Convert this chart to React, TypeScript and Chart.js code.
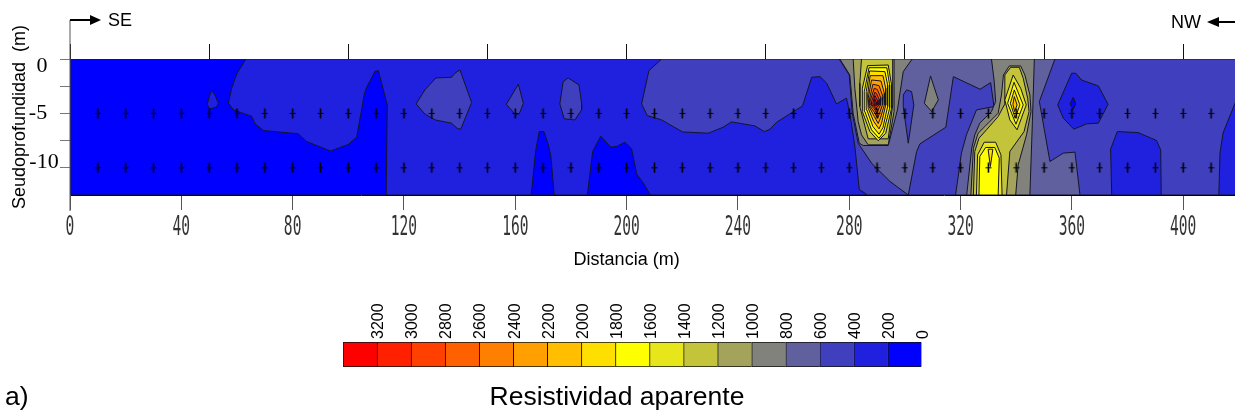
import React, { useEffect, useRef } from "react";
import { Chart, registerables } from "chart.js";

Chart.register(...registerables);

type Pt = [number, number];

// ---- axes ----
const distanceTicks = [0, 40, 80, 120, 160, 200, 240, 280, 320, 360, 400];
const topTicks = [0, 50, 100, 150, 200, 250, 300, 350, 400];
const depthTicks = [0, -2.5, -5, -7.5, -10];
const depthLabels = ["0", "-5", "-10"];
const depthLabelValues = [0, -5, -10];
const scaleLabels = [3200, 3000, 2800, 2600, 2400, 2200, 2000, 1800, 1600, 1400, 1200, 1000, 800, 600, 400, 200, 0];
const scaleColors = ["#ff0000", "#ff2000", "#ff4000", "#ff6000", "#ff8000", "#ff9f00", "#ffbf00", "#ffdf00", "#ffff00", "#e6e61a", "#c4c43a", "#a3a35b", "#82827c", "#60609e", "#4040bf", "#2020df", "#0000ff"];

// ---- measuring points ----
const pointDistances = [10, 20, 30, 40, 50, 60, 70, 80, 90, 100, 110, 120, 130, 140, 150, 160, 170, 180, 190, 200, 210, 220, 230, 240, 250, 260, 270, 280, 290, 300, 310, 320, 330, 340, 350, 360, 370, 380, 390, 400, 410];
const pointDepths = [-5, -10];

// ---- contour polygons [distance, depth] ----
const section: Pt[] = [[0, 0], [420, 0], [420, -12.5], [0, -12.5]];

const r200Main: Pt[] = [[63.2, 0], [59.9, -1.38], [58.1, -2.69], [56.9, -4.05], [58.7, -4.67], [65.3, -5.27], [66.5, -5.95], [69.5, -6.57], [82, -6.87], [85, -7.58], [93.6, -8.46], [100, -7.85], [103, -7.19], [105.8, -3.15], [106.6, -2.6], [109.6, -1.13], [110.8, -1.07], [114, -4.22], [113.6, -12.5], [420, -12.5], [420, 0]];
const r200Islet: Pt[] = [[50.9, -2.9], [52.1, -3.3], [53.3, -4.07], [52.7, -4.4], [50.3, -4.6], [49.3, -4.2], [50.1, -3.4]];
const low170: Pt[] = [[165.7, -12.5], [167.3, -8.5], [168.6, -6.67], [170.3, -6.67], [171.9, -7.89], [172.8, -8.96], [174, -12.5]];
const low195: Pt[] = [[185.9, -12.5], [187.8, -8.5], [190.7, -7.09], [194.3, -8.1], [196.4, -8.04], [199.4, -7.65], [201.8, -8.26], [203.6, -10.55], [206, -11.4], [208.6, -12.5]];

const r400Main: Pt[] = [[212.6, 0], [208, -1.07], [205.4, -4.13], [207.4, -5.2], [212.6, -5.6], [220.1, -6.7], [229.3, -6.82], [234.7, -6.27], [237.7, -5.78], [246.1, -6.15], [249.5, -6.67], [251.5, -6.45], [253.9, -5.81], [263.2, -4.31], [266.5, -1.68], [269.5, -1.62], [271.9, -2.23], [275.4, -4.13], [279, -3.6], [280.2, -5], [282, -8], [283.6, -12], [286.6, -12.5], [412.8, -12.5], [413.2, -8.65], [414.3, -6.8], [418.6, -4.07], [420, -3.3], [420, 0]];
const r400A: Pt[] = [[124.4, -4.13], [127.5, -2.84], [131.5, -1.74], [137.1, -1.68], [138.3, -1.31], [140.1, -1], [144.3, -4], [140.4, -6.45], [139.2, -6.39], [137.1, -5.9], [131.2, -5.6], [127.5, -5.05]];
const r400B: Pt[] = [[161.1, -2.32], [162.9, -4.07], [161.4, -5.05], [159.9, -5.08], [156.8, -4.16]];
const r400C: Pt[] = [[179, -1.74], [182.9, -2.39], [183.9, -4.22], [183.8, -4.68], [181.4, -5.6], [177.6, -5.5], [176, -4.13], [177.2, -2.08]];
const low380: Pt[] = [[374.3, -12.5], [373.9, -8.29], [376.3, -6.67], [383.8, -6.76], [390.4, -7.49], [391.9, -8.35], [392.1, -12.5]];
const low360: Pt[] = [[359.9, -1.31], [361.4, -1.31], [363.5, -1.93], [369.5, -2.48], [373, -4.16], [369.5, -5.9], [365.3, -5.96], [360.7, -6.45], [356.9, -5.44], [354.9, -4.22]];
const min360: Pt[] = [[360.5, -3.52], [361.4, -4.13], [360.5, -4.62], [359.3, -4.13]];

const r600Main: Pt[] = [[276.4, 0], [280, -1.47], [281.1, -5], [283.2, -7.74], [288, -9.57], [294.6, -11.25], [301.2, -12.5], [304.2, -8.5], [305.4, -7.8], [314.7, -6.27], [317.4, -1.62], [327, -2.78], [330.8, -2.17], [332, -4.37], [325.7, -4.68], [322.1, -6.97], [320.3, -8.65], [318.2, -12.5], [362.9, -12.5], [361.1, -8.56], [356.9, -8.65], [352.1, -9.42], [348.3, -3.91], [353.9, 0]];
const low300: Pt[] = [[299.4, -3.3], [300.6, -2.84], [302.4, -3], [303.2, -4.22], [301.2, -7.74], [299.4, -4.37]];

const r800Hot: Pt[] = [[276.6, 0], [280.2, -1.47], [281.4, -5], [283.6, -7.74], [285, -7.95], [294, -7.95], [297.3, -4.68], [299.4, -1.16], [302.6, 0]];
const r800Islet: Pt[] = [[309.2, -1.56], [312, -3.76], [309.6, -4.83], [307, -4.07]];
const r800East: Pt[] = [[331.1, 0], [332.1, -2.08], [332.6, -3.91], [331.1, -4.83], [326.9, -5.9], [325.1, -6.97], [324, -8.2], [322.2, -12.5], [344.9, -12.5], [345.8, -5.75], [346.5, 0]];

const r1000Hot: Pt[] = [[281.4, 0], [282, -2.69], [283.2, -5.75], [284.4, -6.97], [286.8, -7.89], [294, -7.89], [296.1, -4.83], [296.1, 0]];
const r1200Hot: Pt[] = [[284.4, 0], [283.8, -2.23], [283.8, -4.37], [286.8, -7.34], [294, -7.34], [295.6, -4.22], [295.6, 0]];
const r1400Hot: Pt[] = [[286.6, -0.61], [294, -0.55], [295.2, -2.39], [295.2, -4.53], [293.1, -6.82], [290.4, -7.52], [287.4, -6.67], [284.7, -4.83], [284.7, -2.69]];
const r1600Hot: Pt[] = [[287.1, -0.8], [293.5, -0.8], [294.5, -2.39], [294.5, -4.53], [292.3, -6.73], [290.7, -7.28], [288, -6.51], [285.6, -4.83], [285.4, -3]];
const r1800Hot: Pt[] = [[287.3, -1.1], [292.8, -1.16], [293.8, -2.39], [293.8, -4.37], [292.1, -6.3], [290.7, -6.91], [288.5, -6.21], [286.3, -4.68], [286.1, -3]];
const r2000Hot: Pt[] = [[287.5, -1.53], [292.1, -1.53], [293.1, -2.69], [293.1, -4.22], [291.6, -5.9], [290.7, -6.42], [288.8, -5.75], [286.8, -4.53], [286.6, -3.3]];
const r2200Hot: Pt[] = [[288, -1.93], [291.4, -2.02], [292.6, -3.15], [292.6, -4.22], [291.2, -5.44], [290.4, -5.93], [289, -5.29], [287.1, -4.37], [286.8, -3.61]];
const r2400Hot: Pt[] = [[288.5, -2.32], [290.7, -2.45], [292.1, -3.46], [291.9, -4.22], [290.9, -4.98], [290.2, -5.44], [289, -4.89], [287.3, -4.28], [287.2, -3.76]];
const r2600Hot: Pt[] = [[289, -2.69], [290.1, -2.81], [291.4, -3.61], [291.2, -4.22], [290.4, -4.68], [289.9, -5.02], [289, -4.59], [287.7, -4.22], [287.5, -3.85]];
const r2800Hot: Pt[] = [[289.2, -3.06], [289.7, -3.15], [290.8, -3.73], [290.7, -4.22], [289.9, -4.46], [289.7, -4.68], [289, -4.37], [288, -4.22], [288, -3.91]];
const r3000Hot: Pt[] = [[289.2, -3.36], [290.1, -3.79], [290.2, -4.22], [289.5, -4.34], [288.5, -4.19], [288.5, -3.98]];
const r3200Hot: Pt[] = [[289.2, -3.67], [289.7, -3.98], [289.7, -4.19], [289.2, -4.28], [288.9, -4.16], [288.9, -3.98]];

const r1000East: Pt[] = [[323.7, -12.5], [324.6, -8.2], [326.3, -6.82], [328.7, -6.21], [333.5, -4.98], [334.7, -3.3], [335.4, -1.47], [337.5, -0.64], [341.6, -0.64], [343.1, -1.47], [344.9, -3.3], [345.3, -4.83], [343.7, -6.97], [340.7, -9.72], [339.8, -12.5]];
const r1200East: Pt[] = [[324.6, -12.5], [325.1, -8.5], [326.6, -7.28], [329.3, -6.51], [333.5, -5.29], [335.7, -4.22], [335.9, -3], [335.9, -1.47], [338, -0.76], [341.1, -0.76], [342.5, -1.77], [344.1, -3.61], [344.6, -4.83], [342.8, -6.67], [337.7, -8.5], [336.5, -12.5]];
const r1400Upper: Pt[] = [[338.9, -1.47], [341.6, -2.69], [343.6, -4.22], [340.3, -6.51], [337.7, -5.6], [335.9, -3.76]];
const r1600Upper: Pt[] = [[339.2, -2.14], [342.5, -4.22], [339.9, -5.99], [336.9, -4.07]];
const r1800Upper: Pt[] = [[339.3, -2.84], [341.3, -4.22], [339.6, -5.44], [337.9, -4.07]];
const r2000Upper: Pt[] = [[339.3, -3.46], [340.3, -4.22], [339.4, -4.83], [338.8, -4.16]];
const r1400Lower: Pt[] = [[325.7, -12.5], [326.1, -8.81], [328.5, -7.65], [332.6, -7.65], [334.5, -8.81], [334.9, -12.5]];
const r1600Lower: Pt[] = [[326.6, -12.5], [326.9, -8.96], [329, -8.13], [332.3, -8.13], [333.9, -9.11], [333.5, -12.5]];
const r1800Lower: Pt[] = [[329.9, -8.29], [331.6, -8.29], [330.7, -9.88]];

// painter's order: [band value, polygon]
const contourTable: [number, Pt[]][] = [
  [0, section],
  [200, r200Main], [200, r200Islet],
  [0, low170], [0, low195],
  [400, r400Main], [400, r400A], [400, r400B], [400, r400C],
  [200, low380], [200, low360], [0, min360],
  [600, r600Main], [400, low300],
  [800, r800Hot], [800, r800Islet], [800, r800East],
  [1000, r1000Hot], [1200, r1200Hot], [1400, r1400Hot], [1600, r1600Hot], [1800, r1800Hot], [2000, r2000Hot],
  [2200, r2200Hot], [2400, r2400Hot], [2600, r2600Hot], [2800, r2800Hot], [3000, r3000Hot], [3200, r3200Hot],
  [1000, r1000East], [1200, r1200East],
  [1400, r1400Upper], [1600, r1600Upper], [1800, r1800Upper], [2000, r2000Upper],
  [1400, r1400Lower], [1600, r1600Lower], [1800, r1800Lower],
];

const colorOf = (v: number) => scaleColors[scaleLabels.indexOf(v)];

const sansFont = '"Liberation Sans", Arial, sans-serif';
const serifFont = '"Liberation Serif", serif';

const polygonFill = {
  id: "polygonFill",
  beforeDatasetDraw(chart: any, args: any) {
    const ds = chart.data.datasets[args.index];
    if (!ds.polygonColor) return;
    const { ctx, chartArea: a } = chart;
    ctx.save();
    ctx.beginPath();
    ctx.rect(a.left, a.top, a.right - a.left, a.bottom - a.top);
    ctx.clip();
    ctx.beginPath();
    args.meta.dataset.path(ctx);
    ctx.closePath();
    ctx.fillStyle = ds.polygonColor;
    ctx.fill();
    ctx.restore();
  },
};

const arrow = (ctx: CanvasRenderingContext2D, x0: number, x1: number, y: number, head: number) => {
  ctx.strokeStyle = "#000";
  ctx.fillStyle = "#000";
  ctx.lineWidth = 2;
  ctx.beginPath();
  ctx.moveTo(x0, y);
  ctx.lineTo(x1, y);
  ctx.stroke();
  ctx.beginPath();
  ctx.moveTo(x1 + head, y);
  ctx.lineTo(x1, y - 5);
  ctx.lineTo(x1, y + 5);
  ctx.closePath();
  ctx.fill();
};

const annotations = {
  id: "annotations",
  afterDraw(chart: any) {
    const { ctx, scales } = chart;
    const x = scales.x;
    const y = scales.y;
    const x0 = x.getPixelForValue(0);
    ctx.save();
    // left spine, from the direction arrow to the end of the bottom tick
    ctx.strokeStyle = "#555";
    ctx.lineWidth = 1;
    ctx.beginPath();
    ctx.moveTo(x0, 20);
    ctx.lineTo(x0, 211);
    ctx.stroke();
    arrow(ctx, x0, 90, 20, 11);
    arrow(ctx, 1235, 1219, 22, -12);

    ctx.fillStyle = "#000";
    ctx.textBaseline = "middle";
    // condensed distance labels
    distanceTicks.forEach((d) => {
      ctx.save();
      ctx.translate(x.getPixelForValue(d), 228);
      ctx.scale(0.54, 1);
      ctx.font = '27px "DejaVu Sans Mono", monospace';
      ctx.textAlign = "center";
      ctx.fillStyle = "#333";
      ctx.fillText(String(d), 0, 0);
      ctx.restore();
    });
    // depth labels
    ctx.font = "22px " + serifFont;
    ctx.textAlign = "center";
    const depthShift = [7, 0, -6];
    const depthCentre = [42, 38, 44];
    depthLabels.forEach((t, i) => {
      ctx.fillText(t, depthCentre[i], y.getPixelForValue(depthLabelValues[i]) + depthShift[i]);
    });
    ctx.font = "18px " + sansFont;
    ctx.textAlign = "left";
    ctx.fillText("SE", 108, 21);
    ctx.fillText("NW", 1171, 23);
    ctx.textAlign = "center";
    ctx.fillText("Distancia (m)", x.getPixelForValue(200), 260);
    ctx.font = "26.5px " + sansFont;
    ctx.fillText("Resistividad aparente", 617, 398);
    ctx.textAlign = "left";
    ctx.fillText("a)", 5, 398);
    ctx.translate(20, 117);
    ctx.rotate(-Math.PI / 2);
    ctx.textAlign = "center";
    ctx.font = "18px " + sansFont;
    ctx.fillText("Seudoprofundidad  (m)", 0, 0);
    ctx.restore();
  },
};

// the survey marker: a cross taller than it is wide
const makeMarker = () => {
  const c = document.createElement("canvas");
  c.width = 7;
  c.height = 11;
  const g = c.getContext("2d")!;
  g.fillStyle = "#000";
  g.fillRect(0.5, 5, 6, 1);
  g.fillRect(2.7, 0.5, 1.6, 10);
  return c;
};

export default function App() {
  const mainRef = useRef<HTMLCanvasElement>(null);
  const barRef = useRef<HTMLCanvasElement>(null);

  useEffect(() => {
    document.body.style.margin = "0";
    document.body.style.overflow = "hidden";

    const contourSets = contourTable.map(([v, poly]) => ({
      data: [...poly, poly[0]].map(([px, py]) => ({ x: px, y: py })),
      showLine: true,
      tension: 0,
      borderColor: "#14142a",
      borderWidth: 1,
      pointRadius: 0,
      polygonColor: colorOf(v),
    }));
    const marker = makeMarker();
    const markerSets = pointDepths.map((depth) => ({
      data: pointDistances.map((d) => ({ x: d, y: depth })),
      showLine: false,
      pointStyle: marker,
      pointRadius: 4,
    }));

    const main = new Chart(mainRef.current!, {
      type: "scatter",
      // the library paints the first dataset last
      data: { datasets: [...markerSets, ...contourSets.slice().reverse()] as any },
      plugins: [polygonFill, annotations],
      options: {
        animation: false,
        responsive: false,
        devicePixelRatio: 1,
        layout: { padding: 0, autoPadding: false },
        plugins: { legend: { display: false }, tooltip: { enabled: false } },
        scales: {
          x: {
            type: "linear",
            position: "bottom",
            min: 0,
            max: 418.6,
            afterFit: (s: any) => { s.height = 217; },
            afterBuildTicks: (s: any) => { s.ticks = distanceTicks.map((value) => ({ value })); },
            ticks: { display: false },
            grid: { drawOnChartArea: false, tickLength: 15, color: "#555" },
            border: { color: "#000" },
          },
          xTop: {
            type: "linear",
            position: "top",
            min: 0,
            max: 418.6,
            afterFit: (s: any) => { s.height = 59; },
            afterBuildTicks: (s: any) => { s.ticks = topTicks.map((value) => ({ value })); },
            ticks: { display: false },
            grid: { drawOnChartArea: false, tickLength: 15, color: "#111" },
            border: { color: "#777" },
          },
          y: {
            type: "linear",
            position: "left",
            min: -12.5,
            max: 0,
            afterFit: (s: any) => { s.width = 70; },
            afterBuildTicks: (s: any) => { s.ticks = depthTicks.map((value) => ({ value })); },
            ticks: { display: false },
            grid: { drawOnChartArea: false, tickLength: 10, color: "#777" },
            border: { color: "#555" },
          },
        },
      } as any,
    });

    const bar = new Chart(barRef.current!, {
      type: "bar",
      data: {
        labels: ["Resistividad aparente"],
        datasets: scaleLabels.slice().reverse().map((v) => ({
          label: String(v),
          data: [200],
          backgroundColor: colorOf(v),
          borderColor: "#111",
          borderWidth: 1,
          barPercentage: 1,
          categoryPercentage: 1,
        })),
      },
      options: {
        animation: false,
        responsive: false,
        devicePixelRatio: 1,
        indexAxis: "y",
        layout: { padding: { left: 43, right: 38, top: 0, bottom: 20 }, autoPadding: false },
        plugins: { legend: { display: false }, tooltip: { enabled: false } },
        scales: {
          x: {
            type: "linear",
            position: "top",
            stacked: true,
            reverse: true,
            min: 0,
            max: 3400,
            afterFit: (s: any) => { s.height = 52; },
            afterBuildTicks: (s: any) => { s.ticks = scaleLabels.map((value) => ({ value })); },
            ticks: {
              autoSkip: false,
              minRotation: 90,
              maxRotation: 90,
              padding: 3,
              labelOffset: 21,
              color: "#000",
              font: { family: sansFont, size: 16 },
              callback: (v: any) => String(v),
            },
            grid: { drawOnChartArea: false, drawTicks: false },
            border: { display: false },
          },
          y: { display: false, stacked: true },
        },
      } as any,
    });

    return () => {
      main.destroy();
      bar.destroy();
    };
  }, []);

  return (
    <div style={{ position: "fixed", left: 0, top: 0, width: 1235, height: 412, background: "#fff" }}>
      <canvas ref={mainRef} width={1235} height={412} style={{ position: "absolute", left: 0, top: 0 }} />
      <canvas ref={barRef} width={660} height={97} style={{ position: "absolute", left: 300, top: 290 }} />
    </div>
  );
}
